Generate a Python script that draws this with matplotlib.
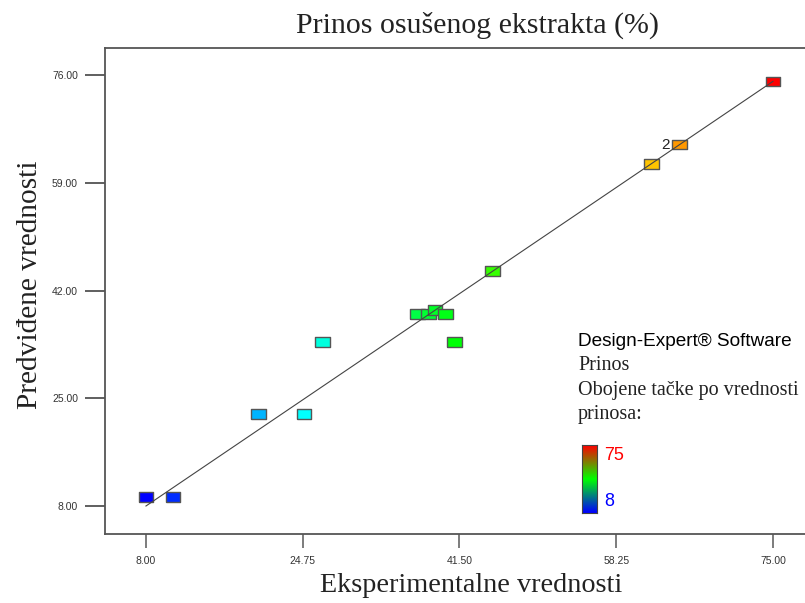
import numpy as np
import matplotlib
matplotlib.use("Agg")
import matplotlib.pyplot as plt
from matplotlib.colors import LinearSegmentedColormap, Normalize

# experimental vs predicted yield (%)
experimental = [8.0, 10.9, 20.0, 24.9, 26.9, 37.0, 38.2, 38.9, 40.0, 41.0, 45.0, 62.0, 65.0, 75.0]
predicted = [9.4, 9.4, 22.5, 22.5, 33.9, 38.3, 38.3, 38.9, 38.3, 33.9, 45.1, 62.0, 65.0, 75.0]
x_ticks = [8.00, 24.75, 41.50, 58.25, 75.00]
y_ticks = [8.00, 25.00, 42.00, 59.00, 76.00]
fit_range = [8.0, 75.0]
c_min, c_max = 8, 75

serif = "Liberation Serif"
sans = "Liberation Sans"

pt_cmap = LinearSegmentedColormap.from_list(
    "de", [(0, "#0000ff"), (0.25, "#00ffff"), (0.5, "#00ff00"), (0.75, "#ffff00"), (1, "#ff0000")])
bar_cmap = LinearSegmentedColormap.from_list("bar", ["#0000ff", "#00ff00", "#ff0000"])
norm = Normalize(c_min, c_max)

fig = plt.figure(figsize=(8.05, 6.03), dpi=100)
ax = fig.add_axes([0.1304, 0.1144, 0.8696, 0.806])

ax.plot(fit_range, fit_range, color="#444444", lw=0.8, zorder=3)

rect = [(-1, -0.65), (1, -0.65), (1, 0.65), (-1, 0.65), (-1, -0.65)]
ax.scatter(experimental, predicted, c=[pt_cmap(norm(v)) for v in experimental],
           marker=rect, s=112, edgecolors="#555555", linewidths=1.0, zorder=2)
ax.text(experimental[12] - 1.0, predicted[12], "2", ha="right", va="center",
        fontsize=11, family=sans, color="#222222")

ax.set_xlim(3.62, 78.42)
ax.set_ylim(3.58, 80.26)
ax.set_xticks(x_ticks)
ax.set_yticks(y_ticks)
ax.set_xticklabels([f"{v:.2f}" for v in x_ticks], family=sans, fontsize=7.5, color="#333333")
ax.set_yticklabels([f"{v:.2f}" for v in y_ticks], family=sans, fontsize=7.5, color="#333333")
ax.tick_params(axis="y", length=14.4, width=1.2, color="#444444", pad=5)
ax.tick_params(axis="x", length=10, width=1.2, color="#666666", pad=6)
for s in ["left", "top", "bottom"]:
    ax.spines[s].set_color("#555555")
    ax.spines[s].set_linewidth(1.3)
ax.spines["right"].set_visible(False)

fig.text(477 / 805, 1 - 25 / 603, "Prinos osušenog ekstrakta (%)", ha="center", va="center",
         family=serif, fontsize=21.5, color="#222222")
fig.text(471 / 805, 1 - 586 / 603, "Eksperimentalne vrednosti", ha="center", va="center",
         family=serif, fontsize=20.3, color="#222222")
fig.text(30 / 805, 1 - 285 / 603, "Predviđene vrednosti", ha="center", va="center",
         rotation=90, family=serif, fontsize=21.2, color="#222222")

fig.text(578 / 805, 1 - 342 / 603, "Design-Expert® Software", ha="left", va="center",
         family=sans, fontsize=13.7, color="black")
for i, line in enumerate(["Prinos", "Obojene tačke po vrednosti", "prinosa:"]):
    fig.text(578 / 805, 1 - (366 + 24 * i) / 603, line, ha="left", va="center",
             family=serif, fontsize=14.5, color="#222222")

cax = fig.add_axes([582 / 805, 1 - 513 / 603, 15 / 805, 68 / 603])
cax.imshow(np.linspace(1, 0, 100).reshape(-1, 1), aspect="auto", cmap=bar_cmap)
cax.set_xticks([])
cax.set_yticks([])
for s in cax.spines.values():
    s.set_color("#444444")
fig.text(604 / 805, 1 - 456 / 603, str(c_max), ha="left", va="center",
         family=sans, fontsize=13, color="red")
fig.text(604 / 805, 1 - 502 / 603, str(c_min), ha="left", va="center",
         family=sans, fontsize=13, color="blue")

fig.savefig("out.png", dpi=100)
